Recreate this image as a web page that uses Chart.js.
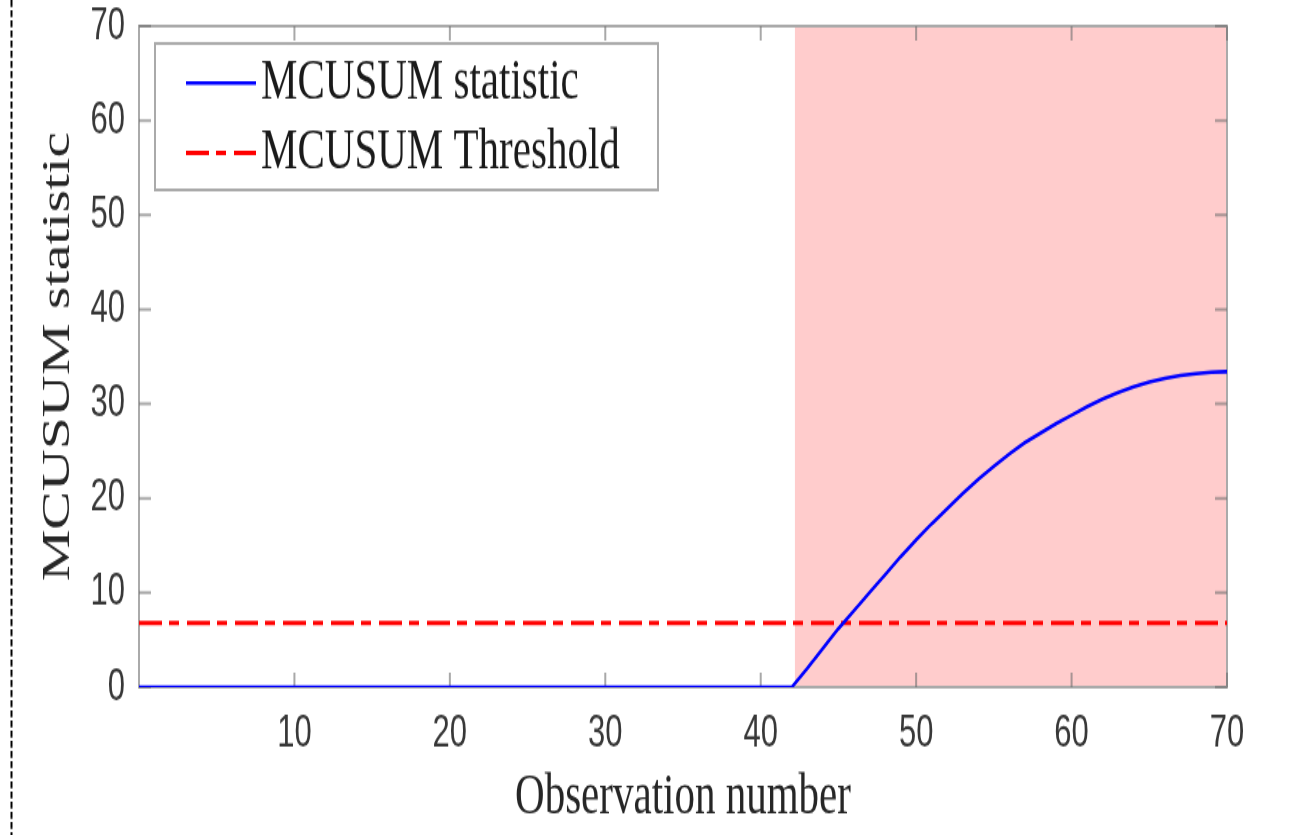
<!DOCTYPE html>
<html>
<head>
<meta charset="utf-8">
<script src="https://cdn.jsdelivr.net/npm/chart.js@4.4.0/dist/chart.umd.min.js"></script>
<style>
  html, body { margin: 0; padding: 0; background: #fff; }
</style>
</head>
<body>
<!-- drawn at 1295x576 and stretched to 835 tall, like the original figure -->
<canvas id="grafico" width="1295" height="576" style="display:block;width:1295px;height:835px"></canvas>
<script>
const observation = [0, 1, 2, 3, 4, 5, 6, 7, 8, 9, 10, 11, 12, 13, 14, 15, 16, 17, 18, 19, 20,
  21, 22, 23, 24, 25, 26, 27, 28, 29, 30, 31, 32, 33, 34, 35, 36, 37, 38, 39, 40, 41, 42,
  43, 44, 45, 46, 47, 48, 49, 50, 51, 52, 53, 54, 55, 56, 57, 58, 59, 60,
  61, 62, 63, 64, 65, 66, 67, 68, 69, 70];
const mcusumStat = [0, 0, 0, 0, 0, 0, 0, 0, 0, 0, 0, 0, 0, 0, 0, 0, 0, 0, 0, 0, 0,
  0, 0, 0, 0, 0, 0, 0, 0, 0, 0, 0, 0, 0, 0, 0, 0, 0, 0, 0, 0, 0, 0,
  2.0, 4.1, 6.2, 8.1, 10.0, 11.9, 13.8, 15.6, 17.3, 18.9, 20.5, 22.0, 23.4, 24.7, 25.9, 26.9, 27.9, 28.8,
  29.7, 30.5, 31.2, 31.8, 32.3, 32.7, 33.0, 33.2, 33.35, 33.4];
const thresholdX = [0, 70];
const thresholdY = [6.8, 6.8];
const alarmRegion = [42.2, 70];
const xTicks = [10, 20, 30, 40, 50, 60, 70];
const yTicks = [0, 10, 20, 30, 40, 50, 60, 70];

const tickColor = "#383838";
const boxColor = "#aaaaaa";

// shaded alarm zone, axes box, inward ticks
const fundo = {
  id: "fundo",
  beforeDatasetsDraw(chart) {
    const { ctx, chartArea: a, scales: { x, y } } = chart;
    ctx.save();
    ctx.fillStyle = "#ffcccc";
    const x0 = x.getPixelForValue(alarmRegion[0]);
    const x1 = x.getPixelForValue(alarmRegion[1]);
    ctx.fillRect(x0, a.top, x1 - x0, a.bottom - a.top);

    ctx.strokeStyle = boxColor;
    ctx.lineWidth = 2;
    ctx.strokeRect(a.left, a.top, a.right - a.left, a.bottom - a.top);

    ctx.lineWidth = 2;
    ctx.strokeStyle = "rgba(110,110,110,0.6)";
    ctx.beginPath();
    xTicks.forEach(v => {
      const px = x.getPixelForValue(v);
      ctx.moveTo(px, a.bottom); ctx.lineTo(px, a.bottom - 10);
      ctx.moveTo(px, a.top); ctx.lineTo(px, a.top + 10);
    });
    yTicks.forEach(v => {
      const py = y.getPixelForValue(v);
      ctx.moveTo(a.left, py); ctx.lineTo(a.left + 12, py);
      ctx.moveTo(a.right, py); ctx.lineTo(a.right - 12, py);
    });
    ctx.stroke();
    ctx.restore();
  },
  afterDraw(chart) {
    const { ctx } = chart;
    ctx.save();
    // dashed page border on the left
    ctx.strokeStyle = "#000";
    ctx.lineWidth = 2;
    ctx.setLineDash([4.8, 2.2]);
    ctx.beginPath();
    ctx.moveTo(11.5, 0);
    ctx.lineTo(11.5, chart.height);
    ctx.stroke();

    // legend box
    ctx.setLineDash([]);
    const bx = 155, by = 30, bw = 503, bh = 101;
    ctx.fillStyle = "#fff";
    ctx.fillRect(bx, by, bw, bh);
    ctx.strokeStyle = boxColor;
    ctx.lineWidth = 2;
    ctx.strokeRect(bx, by, bw, bh);

    const rows = [57.3, 105.5];
    chart.data.datasets.forEach((ds, i) => {
      const yy = rows[i];
      ctx.strokeStyle = ds.borderColor;
      ctx.lineWidth = ds.borderWidth;
      ctx.setLineDash(ds.borderDash || []);
      ctx.beginPath();
      ctx.moveTo(186, yy);
      ctx.lineTo(256, yy);
      ctx.stroke();
      ctx.setLineDash([]);
      ctx.fillStyle = "#1a1a1a";
      ctx.font = "41px 'Liberation Serif'";
      ctx.textBaseline = "middle";
      ctx.textAlign = "left";
      ctx.fillText(ds.label, 261, yy);
    });
    ctx.restore();
  }
};

const ctx = document.getElementById("grafico").getContext("2d");
const chart = new Chart(ctx, {
  type: "line",
  data: {
    datasets: [
      {
        label: "MCUSUM statistic",
        data: observation.map((o, i) => ({ x: o, y: mcusumStat[i] })),
        borderColor: "#0000ff",
        borderWidth: 2.6,
        pointRadius: 0,
        fill: false,
        tension: 0
      },
      {
        label: "MCUSUM Threshold",
        data: thresholdX.map((o, i) => ({ x: o, y: thresholdY[i] })),
        borderColor: "#ff0000",
        borderWidth: 3,
        borderDash: [23, 7, 10, 8],
        borderCapStyle: "butt",
        pointRadius: 0,
        fill: false
      }
    ]
  },
  options: {
    responsive: false,
    devicePixelRatio: 1,
    animation: false,
    layout: { padding: { top: 18, right: 68, left: 0, bottom: 0 } },
    plugins: {
      legend: { display: false },
      tooltip: { enabled: false }
    },
    scales: {
      x: {
        type: "linear",
        min: 0,
        max: 70,
        grid: { display: false, drawTicks: false },
        border: { display: false },
        afterBuildTicks: s => { s.ticks = xTicks.map(v => ({ value: v })); },
        afterFit: s => { s.height = 102; s.paddingLeft = 0; s.paddingRight = 0; },
        ticks: {
          padding: 14,
          color: tickColor,
          maxRotation: 0,
          font: { family: "'Liberation Sans'", size: 31 }
        },
        title: {
          display: true,
          text: "Observation number",
          color: "#262626",
          padding: { top: 0, bottom: 1 },
          font: { family: "'Liberation Serif'", size: 41 }
        }
      },
      y: {
        type: "linear",
        min: 0,
        max: 70,
        grid: { display: false, drawTicks: false },
        border: { display: false },
        afterBuildTicks: s => { s.ticks = yTicks.map(v => ({ value: v })); },
        afterFit: s => { s.width = 139; s.paddingTop = 0; s.paddingBottom = 0; },
        ticks: {
          padding: 14,
          color: tickColor,
          font: { family: "'Liberation Sans'", size: 31 }
        },
        title: {
          display: true,
          text: "MCUSUM statistic",
          color: "#262626",
          padding: { top: 34, bottom: 0 },
          font: { family: "'Liberation Serif'", size: 40 }
        }
      }
    }
  },
  plugins: [fundo]
});
</script>
</body>
</html>
